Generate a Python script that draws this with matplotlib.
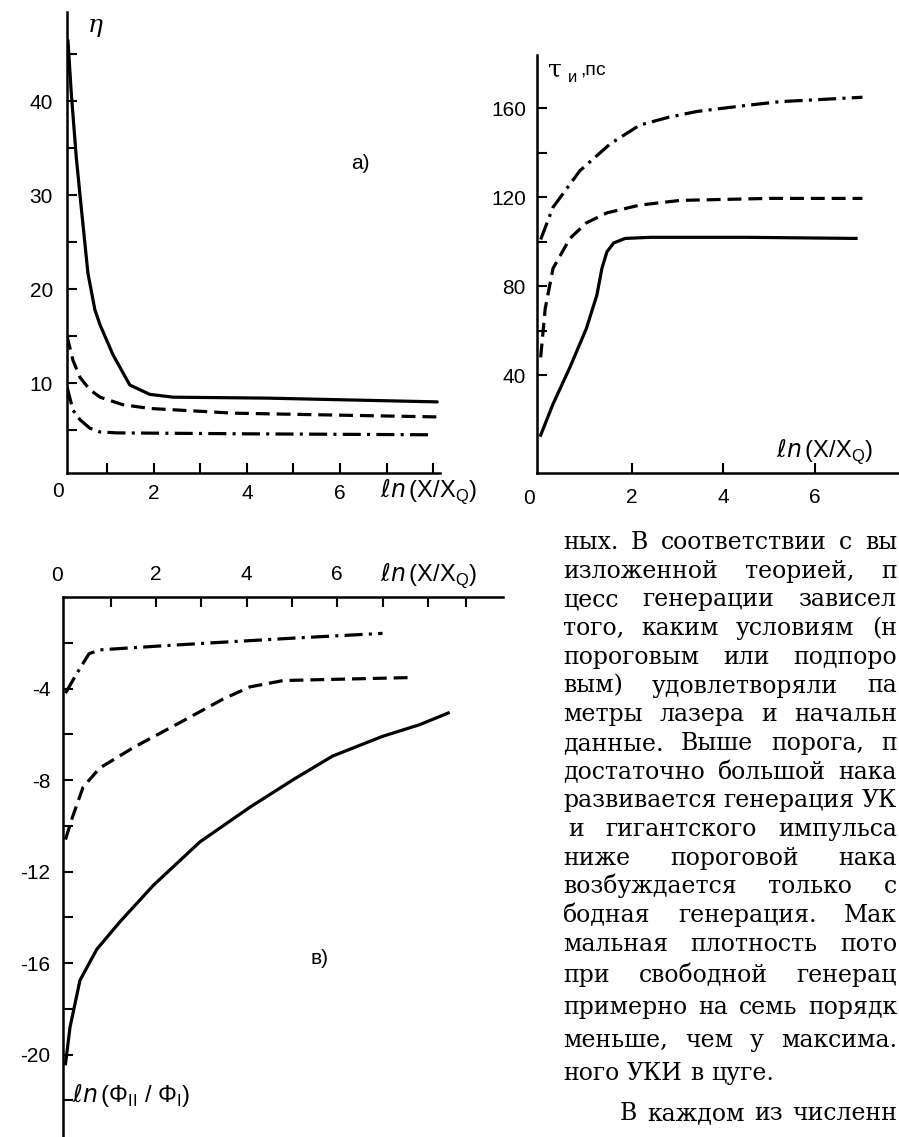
import matplotlib
matplotlib.use("Agg")
import matplotlib.pyplot as plt

W, H, DPI = 899, 1137, 100
plt.rcParams['lines.scale_dashes'] = False

# ---------------- data: panel a (eta vs ln(X/XQ)) ----------------
a_solid_x = [0.15, 0.22, 0.33, 0.43, 0.58, 0.73, 0.84, 1.12, 1.48, 1.91, 2.41, 4.43, 8.09]
a_solid_y = [46.5, 41.0, 34.0, 29.0, 21.7, 17.8, 16.2, 13.0, 9.8, 8.8, 8.5, 8.4, 8.0]
a_dash_x = [0.13, 0.26, 0.41, 0.62, 0.84, 1.33, 1.91, 3.7, 5.85, 8.09]
a_dash_y = [15.0, 12.4, 10.6, 9.3, 8.5, 7.7, 7.3, 6.8, 6.6, 6.4]
a_dd_x = [0.13, 0.26, 0.41, 0.62, 0.84, 1.2, 4.0, 7.9]
a_dd_y = [9.6, 7.1, 6.1, 5.2, 4.8, 4.7, 4.6, 4.5]
a_yticks = [5, 10, 15, 20, 25, 30, 35, 40, 45]
a_ylabels = ['', '10', '', '20', '', '30', '', '40', '']
a_xticks = [1, 2, 3, 4, 5, 6, 7, 8]
a_xlabels = ['', '2', '', '4', '', '6', '', '']

# ---------------- data: panel b (tau_i, ps) ----------------
b_solid_x = [0.0, 0.27, 0.64, 1.0, 1.23, 1.34, 1.45, 1.6, 1.85, 2.4, 4.5, 6.9]
b_solid_y = [13, 27, 43.5, 61, 76, 88, 95.5, 99.5, 101.5, 102, 102, 101.5]
b_dash_x = [0.0, 0.1, 0.27, 0.64, 1.0, 1.45, 2.17, 3.05, 5.0, 7.04]
b_dash_y = [48, 70, 88, 101.5, 108.5, 113, 116.5, 118.6, 119.5, 119.5]
b_dd_x = [0.0, 0.27, 0.86, 1.52, 2.17, 2.8, 3.42, 4.36, 5.23, 7.04]
b_dd_y = [101, 115.5, 132, 144, 152.5, 156, 158.6, 161, 163, 165]
b_yticks = [40, 60, 80, 100, 120, 140, 160]
b_ylabels = ['40', '', '80', '', '120', '', '160']
b_xticks = [2, 4, 6]
b_xlabels = ['2', '4', '6']

# ---------------- data: panel c (ln(Phi_II/Phi_I)) ----------------
c_solid_x = [0.0, 0.1, 0.32, 0.69, 1.2, 1.94, 2.97, 4.07, 5.03, 5.9, 7.0, 7.82, 8.45]
c_solid_y = [-20.4, -18.8, -16.75, -15.4, -14.2, -12.6, -10.7, -9.19, -7.98, -6.95, -6.09, -5.58, -5.07]
c_dash_x = [0.0, 0.14, 0.39, 0.76, 1.5, 2.6, 3.48, 4.07, 4.81, 7.64]
c_dash_y = [-10.6, -9.7, -8.3, -7.47, -6.58, -5.41, -4.46, -3.93, -3.65, -3.52]
c_dd_x = [0.0, 0.25, 0.52, 0.76, 2.09, 3.26, 5.1, 7.0]
c_dd_y = [-4.2, -3.34, -2.48, -2.31, -2.14, -2.0, -1.79, -1.59]
c_yticks = [-2, -4, -6, -8, -10, -12, -14, -16, -18, -20, -22]
c_ylabels = ['', '-4', '', '-8', '', '-12', '', '-16', '', '-20', '']
c_xticks = [1, 2, 3, 4, 5, 6, 7, 8, 8.85]
c_xlabels = ['', '2', '', '4', '', '6', '', '', '']

# ---------------- paragraph text ----------------
para_lines = [
    "ных. В соответствии с вы",
    "изложенной теорией, п",
    "цесс генерации зависел",
    "того, каким условиям (н",
    "пороговым или подпоро",
    "вым) удовлетворяли па",
    "метры лазера и начальн",
    "данные. Выше порога, п",
    "достаточно большой нака",
    "развивается генерация УК",
    "и гигантского импульса",
    "ниже пороговой нака",
    "возбуждается только с",
    "бодная генерация. Мак",
    "мальная плотность пото",
    "при свободной генерац",
    "примерно на семь порядк",
    "меньше, чем у максима.",
    "ного УКИ в цуге.",
]
para_last = "В каждом из численн"

# ---------------- figure ----------------
fig = plt.figure(figsize=(W / DPI, H / DPI), dpi=DPI)
fig.patch.set_facecolor('white')


def rect(l, t, r, b):
    return [l / W, 1 - b / H, (r - l) / W, (b - t) / H]


SANS = ['Liberation Sans', 'DejaVu Sans']
TICKFS = 15
LABFS = 17
LW = 2.3
DASH = (0, (10, 5))
DASHDOT = (0, (13, 4.5, 2.2, 4.5))
SPW = 1.8
XLAB = r'$\ell n\,$(X/X$_\mathregular{Q}$)'


def style(ax, visible):
    for s in ['left', 'right', 'top', 'bottom']:
        ax.spines[s].set_visible(s in visible)
        ax.spines[s].set_linewidth(SPW)
    ax.tick_params(direction='in', length=7, width=1.5, labelsize=TICKFS)
    for lab in ax.get_xticklabels() + ax.get_yticklabels():
        lab.set_family(SANS)
    ax.set_facecolor('none')


# panel a
ax_a = fig.add_axes(rect(67, 12, 440, 473))
ax_a.plot(a_solid_x, a_solid_y, color='black', lw=LW, solid_capstyle='round')
ax_a.plot(a_dash_x, a_dash_y, color='black', lw=LW, linestyle=DASH)
ax_a.plot(a_dd_x, a_dd_y, color='black', lw=LW, linestyle=DASHDOT)
ax_a.set_xlim(0.13, 8.15)
ax_a.set_ylim(0.43, 49.5)
ax_a.set_xticks(a_xticks)
ax_a.set_xticklabels(a_xlabels)
ax_a.set_yticks(a_yticks)
ax_a.set_yticklabels(a_ylabels)
style(ax_a, ['left', 'bottom'])
ax_a.tick_params(axis='x', pad=8)
ax_a.tick_params(axis='y', pad=10)
ax_a.text(-0.024, -0.04, '0', transform=ax_a.transAxes, ha='center', va='center',
          fontsize=TICKFS, family=SANS)
ax_a.text(0.84, -0.04, XLAB, transform=ax_a.transAxes,
          ha='left', va='center', fontsize=LABFS, family=SANS)
ax_a.text(0.055, 0.97, 'η', transform=ax_a.transAxes, ha='left', va='center',
          fontsize=18, family='DejaVu Serif', style='italic')
ax_a.text(6.43, 33.4, 'a)', ha='center', va='center', fontsize=TICKFS, family=SANS)

# panel b
ax_b = fig.add_axes(rect(537, 55, 899, 473))
ax_b.plot(b_solid_x, b_solid_y, color='black', lw=LW)
ax_b.plot(b_dash_x, b_dash_y, color='black', lw=LW, linestyle=DASH)
ax_b.plot(b_dd_x, b_dd_y, color='black', lw=LW, linestyle=DASHDOT)
ax_b.set_xlim(-0.08, 7.84)
ax_b.set_ylim(-4, 184)
ax_b.set_xticks(b_xticks)
ax_b.set_xticklabels(b_xlabels)
ax_b.set_yticks(b_yticks)
ax_b.set_yticklabels(b_ylabels)
style(ax_b, ['left', 'bottom'])
ax_b.tick_params(axis='x', pad=11)
ax_b.tick_params(axis='y', pad=8)
ax_b.text(-0.022, -0.06, '0', transform=ax_b.transAxes, ha='center', va='center',
          fontsize=TICKFS, family=SANS)
ax_b.text(0.66, 0.05, XLAB, transform=ax_b.transAxes,
          ha='left', va='center', fontsize=LABFS, family=SANS)
ax_b.text(0.03, 0.965, 'τ', transform=ax_b.transAxes, ha='left', va='center',
          fontsize=18, family='DejaVu Serif')
ax_b.text(0.085, 0.945, 'и', transform=ax_b.transAxes, ha='left', va='center',
          fontsize=12, family=SANS)
ax_b.text(0.12, 0.965, ',пс', transform=ax_b.transAxes, ha='left', va='center',
          fontsize=14, family=SANS)

# panel c
ax_c = fig.add_axes(rect(63, 597, 503, 1137))
ax_c.plot(c_solid_x, c_solid_y, color='black', lw=LW)
ax_c.plot(c_dash_x, c_dash_y, color='black', lw=LW, linestyle=DASH)
ax_c.plot(c_dd_x, c_dd_y, color='black', lw=LW, linestyle=DASHDOT)
ax_c.set_xlim(-0.055, 9.66)
ax_c.set_ylim(-23.6, 0)
ax_c.xaxis.tick_top()
ax_c.set_xticks(c_xticks)
ax_c.set_xticklabels(c_xlabels)
ax_c.set_yticks(c_yticks)
ax_c.set_yticklabels(c_ylabels)
style(ax_c, ['left', 'top'])
ax_c.tick_params(axis='x', pad=9)
ax_c.tick_params(axis='y', pad=9)
ax_c.text(-0.013, 1.04, '0', transform=ax_c.transAxes, ha='center', va='center',
          fontsize=TICKFS, family=SANS)
ax_c.text(0.72, 1.04, XLAB, transform=ax_c.transAxes,
          ha='left', va='center', fontsize=LABFS, family=SANS)
ax_c.text(0.02, 0.077, r'$\ell n\,$(Φ$_\mathregular{II}$ / Φ$_\mathregular{I}$)',
          transform=ax_c.transAxes, ha='left', va='center', fontsize=LABFS, family=SANS)
ax_c.text(5.6, -15.8, 'в)', ha='center', va='center', fontsize=TICKFS, family=SANS)

# paragraph (justified word by word)
renderer = fig.canvas.get_renderer()
SERIF = 'DejaVu Serif'
PFS = 17
x_left, x_right = 563, 897
# x-height centre of each line (pixels from top)
line_mid = [543 + 28.7 * i for i in range(15)] + [976, 1008, 1041, 1074]
last_mid = 1114
BASE_OFF = 6


def place_line(text, x0, x1, y, justify=True):
    words = text.split()
    items = []
    for w in words:
        t = fig.text(0, 0, w, fontsize=PFS, family=SERIF, va='baseline', ha='left')
        items.append((t, t.get_window_extent(renderer).width))
    total = sum(wd for _, wd in items)
    if justify and len(items) > 1:
        gap = (x1 - x0 - total) / (len(items) - 1)
    else:
        sp = fig.text(0, 0, 'a a', fontsize=PFS, family=SERIF)
        sp2 = fig.text(0, 0, 'aa', fontsize=PFS, family=SERIF)
        gap = sp.get_window_extent(renderer).width - sp2.get_window_extent(renderer).width
        sp.remove()
        sp2.remove()
    x = x0
    for t, wd in items:
        t.set_position((x / W, 1 - y / H))
        x += wd + gap


for i, line in enumerate(para_lines):
    last = i == len(para_lines) - 1
    xl = x_left + (5 if i == 10 else 0)
    place_line(line, xl, x_right, line_mid[i] + BASE_OFF, justify=not last)
place_line(para_last, 620, x_right, last_mid + BASE_OFF, justify=True)

fig.savefig('out.png', dpi=DPI, facecolor='white')
